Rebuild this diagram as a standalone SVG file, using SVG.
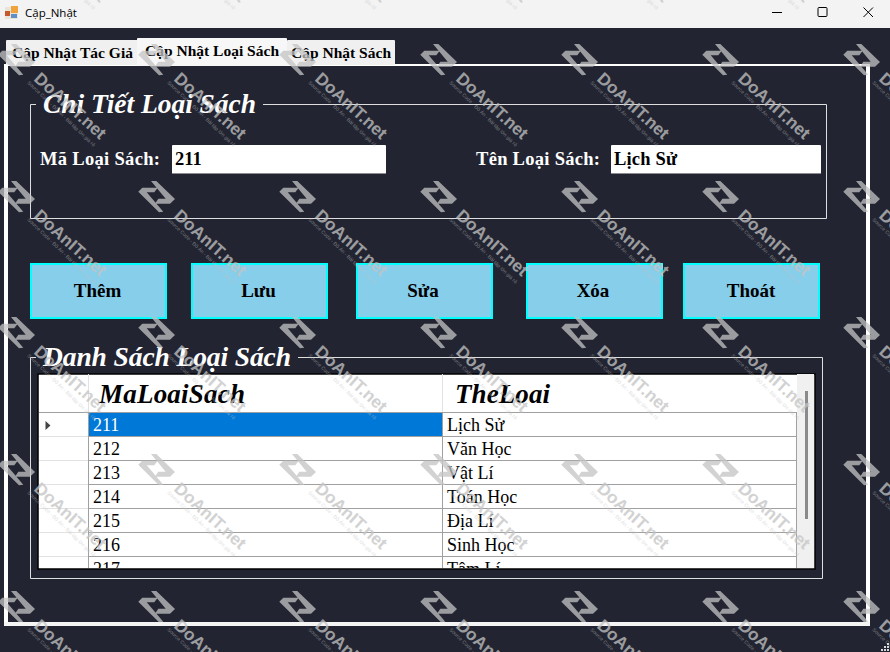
<svg xmlns="http://www.w3.org/2000/svg" xmlns:xlink="http://www.w3.org/1999/xlink" width="890" height="652" viewBox="0 0 890 652">
<style>
text{font-family:"Liberation Serif","Noto Sans CJK SC",serif;fill:#000}
.tab{font-size:15.500px;font-weight:700}
.gt{font-size:27.500px;font-weight:700;font-style:italic;fill:#fff}
.lb{font-size:18.500px;font-weight:700;fill:#fff}
.val{font-size:18.500px;font-weight:700}
.btn rect{fill:#87ceeb;stroke:#0ff;stroke-width:2}
.btn text{font-size:19px;font-weight:700;text-anchor:middle}
.gb{fill:none;stroke:#dedede;stroke-width:1}
.hd{font-size:27px;font-weight:700;font-style:italic}
.cell{font-size:18px}
.rl{stroke:#a0a0a0;stroke-width:1}
.ll{stroke:#e2e2e2;stroke-width:1}
.wm{fill:#c4c4c4;opacity:.75}
.wm text{fill:#c4c4c4;font-family:"Liberation Sans",sans-serif}
</style>
<defs>
<g id="wm" class="wm">
<path d="M-6-16H-.7L18 2 13 6.7H-2L1.3 1.7H8.7ZM-18.700-5.300-14.700-9.300H.7L-2.700-4.700H-10.300L6.300 14.700 2 15.300Z"/>
<text transform="translate(16,20) rotate(42)" font-size="17" font-weight="700" textLength="90" lengthAdjust="spacingAndGlyphs">DoAnIT.net</text>
<text transform="translate(10,23) rotate(44)" font-size="5" opacity=".7" textLength="92" lengthAdjust="spacingAndGlyphs">Source Code - Đồ Án - Bài tập lớn giá rẻ</text>
</g>
<clipPath id="gridclip"><rect x="39" y="374" width="775" height="194"/></clipPath>
</defs>

<rect id="background" width="890" height="652" fill="#222431"/>

<g id="titlebar">
<rect width="890" height="28" fill="#f3f3f3"/>
<rect x="5" y="7" width="13" height="12" fill="#e9e4d8"/>
<rect x="5" y="11" width="5" height="5" fill="#c9572c"/>
<rect x="11" y="6" width="7" height="7" fill="#f0a23c"/>
<rect x="11" y="14" width="6" height="4" fill="#5f8fc9"/>
<text x="25" y="17" style="font-family:'Open Sans','Noto Sans',sans-serif" font-size="11.500">Cập_Nhật</text>
<path d="M772 12.500H782" stroke="#000" fill="none"/>
<rect x="818" y="7.500" width="9" height="9" rx="1" fill="none" stroke="#000"/>
<path d="M863.500 7.500 873 17M873 7.500 863.500 17" stroke="#000" fill="none"/>
</g>

<g id="page-frame">
<rect x="4" y="64" width="866" height="2" fill="#fff"/>
<rect x="4" y="64" width="4" height="562" fill="#fff"/>
<rect x="866" y="64" width="4" height="562" fill="#fff"/>
<rect x="4" y="622" width="866" height="4" fill="#f4f4f4"/>
</g>

<g id="tab-tacgia">
<rect x="6" y="40" width="132" height="25" rx="1" fill="#f0f0f0"/>
<text class="tab" x="12" y="58" textLength="121">Cập Nhật Tác Giả</text>
</g>
<g id="tab-theloai">
<rect x="137" y="38" width="150" height="28" rx="1" fill="#f7f7f7"/>
<text class="tab" x="145" y="56" textLength="134">Cập Nhật Loại Sách</text>
</g>
<g id="tab-sach">
<rect x="287" y="40" width="108" height="25" rx="1" fill="#f0f0f0"/>
<text class="tab" x="291" y="58" textLength="100">Cập Nhật Sách</text>
</g>

<g id="group-chitiet">
<path class="gb" d="M36 104.500H30.500V218.500H826.500V104.500H263"/>
<text class="gt" x="43" y="113" textLength="213">Chi Tiết Loại Sách</text>
</g>
<g id="field-ma">
<text class="lb" x="40" y="165" textLength="120">Mã Loại Sách:</text>
<rect x="172" y="145" width="214" height="29" rx="1" fill="#fff"/>
<rect x="172" y="173" width="214" height="1" fill="#8a8a8f"/>
<text class="val" x="175" y="165">211</text>
</g>
<g id="field-ten">
<text class="lb" x="476" y="165" textLength="124">Tên Loại Sách:</text>
<rect x="611" y="145" width="210" height="29" rx="1" fill="#fff"/>
<rect x="611" y="173" width="210" height="1" fill="#8a8a8f"/>
<text class="val" x="614" y="165" textLength="63">Lịch Sử</text>
</g>

<g id="btn-them" class="btn"><rect x="31" y="264" width="135" height="54"/><text x="97.500" y="297">Thêm</text></g>
<g id="btn-luu" class="btn"><rect x="192" y="264" width="135" height="54"/><text x="258.500" y="297">Lưu</text></g>
<g id="btn-sua" class="btn"><rect x="357" y="264" width="135" height="54"/><text x="423" y="297">Sửa</text></g>
<g id="btn-xoa" class="btn"><rect x="527" y="264" width="135" height="54"/><text x="593" y="297">Xóa</text></g>
<g id="btn-thoat" class="btn"><rect x="684" y="264" width="135" height="54"/><text x="751" y="297">Thoát</text></g>

<g id="group-danhsach">
<path class="gb" d="M36 357.500H30.500V578.500H822.500V357.500H298"/>
<text class="gt" x="43" y="366" textLength="248">Danh Sách Loại Sách</text>
</g>

<g id="grid">
<rect x="38" y="374" width="777" height="195" fill="#fff" stroke="#000" stroke-width="1.500"/>
<g clip-path="url(#gridclip)">
<rect x="797" y="374" width="17" height="195" fill="#f0f0f0"/>
<rect x="805" y="391" width="3" height="128" fill="#8a8a8a"/>
<rect x="89" y="413" width="353" height="23" fill="#0078d7"/>
<path class="ll" d="M39 436.500H88M39 460.500H88M39 484.500H88M39 508.500H88M39 532.500H88M39 556.500H88M88.500 374V412M442.500 374V412"/>
<path class="rl" d="M39 412.500H797M89 436.500H797M89 460.500H797M89 484.500H797M89 508.500H797M89 532.500H797M89 556.500H797M88.500 412V568M442.500 412V568M796.500 412V568"/>
<path d="M45.500 421 50.500 425.500 45.500 430Z" fill="#444"/>
<text class="hd" x="99" y="403" textLength="146">MaLoaiSach</text>
<text class="hd" x="455" y="403" textLength="95">TheLoai</text>
<text class="cell" x="93" y="431" style="fill:#fff">211</text>
<text class="cell" x="93" y="455">212</text>
<text class="cell" x="93" y="479">213</text>
<text class="cell" x="93" y="503">214</text>
<text class="cell" x="93" y="527">215</text>
<text class="cell" x="93" y="551">216</text>
<text class="cell" x="93" y="575">217</text>
<text class="cell" x="447" y="431">Lịch Sử</text>
<text class="cell" x="447" y="455">Văn Học</text>
<text class="cell" x="447" y="479">Vật Lí</text>
<text class="cell" x="447" y="503">Toán Học</text>
<text class="cell" x="447" y="527">Địa Lí</text>
<text class="cell" x="447" y="551">Sinh Học</text>
<text class="cell" x="447" y="575">Tâm Lí</text>
</g>
</g>

<g id="watermarks">
<use href="#wm" x="17" y="-77"/><use href="#wm" x="157" y="-77"/><use href="#wm" x="298" y="-77"/><use href="#wm" x="439" y="-77"/><use href="#wm" x="580" y="-77"/><use href="#wm" x="721" y="-77"/><use href="#wm" x="862" y="-77"/>
<use href="#wm" x="17" y="60"/><use href="#wm" x="157" y="60"/><use href="#wm" x="298" y="60"/><use href="#wm" x="439" y="60"/><use href="#wm" x="580" y="60"/><use href="#wm" x="721" y="60"/><use href="#wm" x="862" y="60"/>
<use href="#wm" x="17" y="197"/><use href="#wm" x="157" y="197"/><use href="#wm" x="298" y="197"/><use href="#wm" x="439" y="197"/><use href="#wm" x="580" y="197"/><use href="#wm" x="721" y="197"/><use href="#wm" x="862" y="197"/>
<use href="#wm" x="17" y="333"/><use href="#wm" x="157" y="333"/><use href="#wm" x="298" y="333"/><use href="#wm" x="439" y="333"/><use href="#wm" x="580" y="333"/><use href="#wm" x="721" y="333"/><use href="#wm" x="862" y="333"/>
<use href="#wm" x="17" y="470"/><use href="#wm" x="157" y="470"/><use href="#wm" x="298" y="470"/><use href="#wm" x="439" y="470"/><use href="#wm" x="580" y="470"/><use href="#wm" x="721" y="470"/><use href="#wm" x="862" y="470"/>
<use href="#wm" x="17" y="607"/><use href="#wm" x="157" y="607"/><use href="#wm" x="298" y="607"/><use href="#wm" x="439" y="607"/><use href="#wm" x="580" y="607"/><use href="#wm" x="721" y="607"/><use href="#wm" x="862" y="607"/>
</g>

<path id="grip" d="M887 643h2v2h-2zM884 646h2v2h-2zM887 646h2v2h-2zM881 649h2v2h-2zM884 649h2v2h-2zM887 649h2v2h-2z" fill="#d8d8d8"/>
</svg>
